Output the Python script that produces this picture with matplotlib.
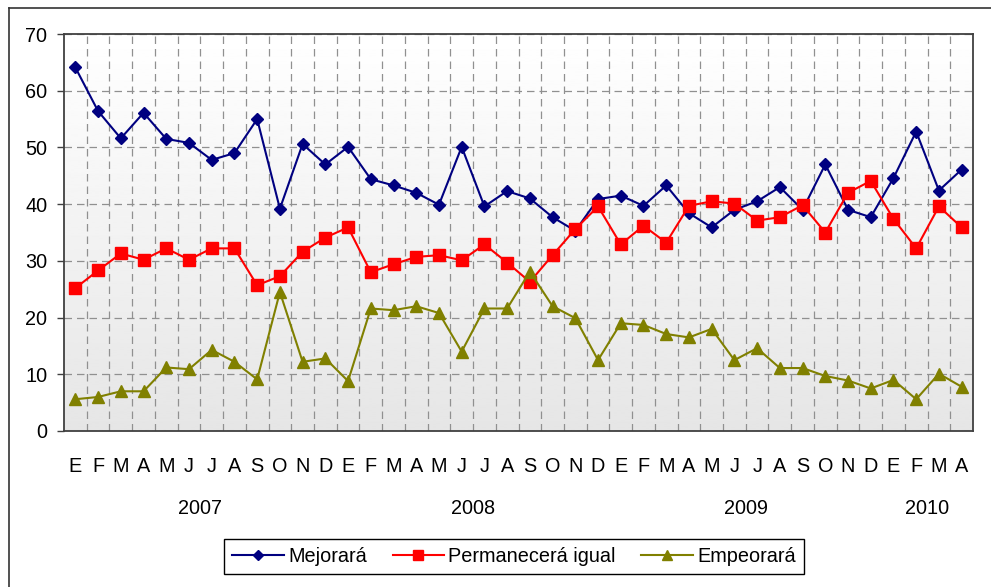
import matplotlib.pyplot as plt
import matplotlib.transforms as mtransforms
import numpy as np
from matplotlib.lines import Line2D

plt.rcParams['font.family'] = ['Liberation Sans', 'DejaVu Sans']

# month initials (Spanish), Jan 2007 .. Apr 2010
months = ['E', 'F', 'M', 'A', 'M', 'J', 'J', 'A', 'S', 'O', 'N', 'D'] * 3 + ['E', 'F', 'M', 'A']
years = ['2007', '2008', '2009', '2010']
year_centers = [5.5, 17.5, 29.5, 37.5]

mejorara = [64.1, 56.4, 51.6, 56.1, 51.5, 50.8, 47.8, 49.0, 55.0, 39.2, 50.6, 47.0,
            50.1, 44.4, 43.3, 42.0, 39.9, 50.1, 39.6, 42.3, 41.0, 37.7, 35.3, 40.9,
            41.5, 39.7, 43.3, 38.4, 35.9, 39.0, 40.5, 43.0, 39.0, 47.0, 39.0, 37.7,
            44.6, 52.8, 42.4, 46.1]
permanecera = [25.2, 28.3, 31.3, 30.2, 32.2, 30.2, 32.2, 32.2, 25.7, 27.3, 31.6, 34.1,
               35.9, 28.0, 29.4, 30.7, 31.0, 30.1, 32.9, 29.7, 26.3, 31.0, 35.6, 39.6,
               32.9, 36.2, 33.2, 39.7, 40.5, 40.1, 37.1, 37.7, 39.8, 35.0, 42.0, 44.1,
               37.4, 32.2, 39.6, 35.9]
empeorara = [5.6, 6.0, 7.0, 7.0, 11.2, 10.9, 14.3, 12.2, 9.1, 24.5, 12.2, 12.8,
             8.8, 21.6, 21.3, 22.0, 20.8, 14.0, 21.6, 21.6, 28.1, 22.0, 19.9, 12.5,
             19.0, 18.7, 17.1, 16.5, 18.0, 12.5, 14.6, 11.1, 11.1, 9.7, 8.9, 7.5,
             9.0, 5.6, 10.1, 7.8]

x = np.arange(len(months))
fs = 14.3

fig = plt.figure(figsize=(9.91, 5.87), dpi=100)
ax = fig.add_axes([64 / 991, 1 - 431 / 587, (973 - 64) / 991, (431 - 34) / 587])

# outer frame of the chart (left and top edges visible)
fig.add_artist(Line2D([9 / 991, 9 / 991], [0, 1 - 8 / 587], color='#333333', lw=1.2))
fig.add_artist(Line2D([9 / 991, 1], [1 - 8 / 587, 1 - 8 / 587], color='#333333', lw=1.2))

# gradient background
grad = np.linspace(1.0, 0.9, 256).reshape(-1, 1)
ax.imshow(grad, cmap='gray', vmin=0, vmax=1, aspect='auto',
          extent=[0, 1, 0, 1], transform=ax.transAxes, zorder=0)

ax.plot(x, mejorara, color='#000080', lw=1.5, marker='D', markersize=6.5, label='Mejorará', zorder=3)
ax.plot(x, permanecera, color='#FF0000', lw=1.5, marker='s', markersize=8.5, label='Permanecerá igual', zorder=3)
ax.plot(x, empeorara, color='#808000', lw=1.5, marker='^', markersize=8.5, label='Empeorará', zorder=3)

ax.set_xlim(-0.5, len(months) - 0.5)
ax.set_ylim(0, 70)
ax.set_yticks(range(0, 71, 10))
ax.set_xticks(x)
ax.set_xticklabels(months, fontsize=fs)
ax.set_xticks(np.arange(0.5, len(months) - 1, 1), minor=True)
ax.tick_params(axis='x', which='both', length=0, pad=19)
ax.tick_params(axis='y', length=5, width=1, color='#404040', pad=7, labelsize=fs)

ax.grid(True, axis='y', which='major', linestyle=(0, (6, 4)), color='#909090', lw=0.9)
ax.grid(True, axis='x', which='minor', linestyle=(0, (6, 4)), color='#909090', lw=0.9)
ax.set_axisbelow(True)
for s in ax.spines.values():
    s.set_color('#404040')
    s.set_linewidth(1.3)

# year labels under the month letters
trans = mtransforms.blended_transform_factory(ax.transData, fig.transFigure)
for yr, c in zip(years, year_centers):
    ax.text(c, 1 - 509 / 587, yr, transform=trans, ha='center', va='center', fontsize=fs)

leg = fig.legend(loc='center', bbox_to_anchor=(514 / 991, 1 - 556.5 / 587), ncol=3,
                 fontsize=fs, fancybox=False, edgecolor='black', framealpha=1,
                 handlelength=2.6, columnspacing=1.3, handletextpad=0.2,
                 borderpad=0.4, markerscale=0.8)
leg.get_frame().set_linewidth(1.0)

fig.savefig('out.png', dpi=100)
